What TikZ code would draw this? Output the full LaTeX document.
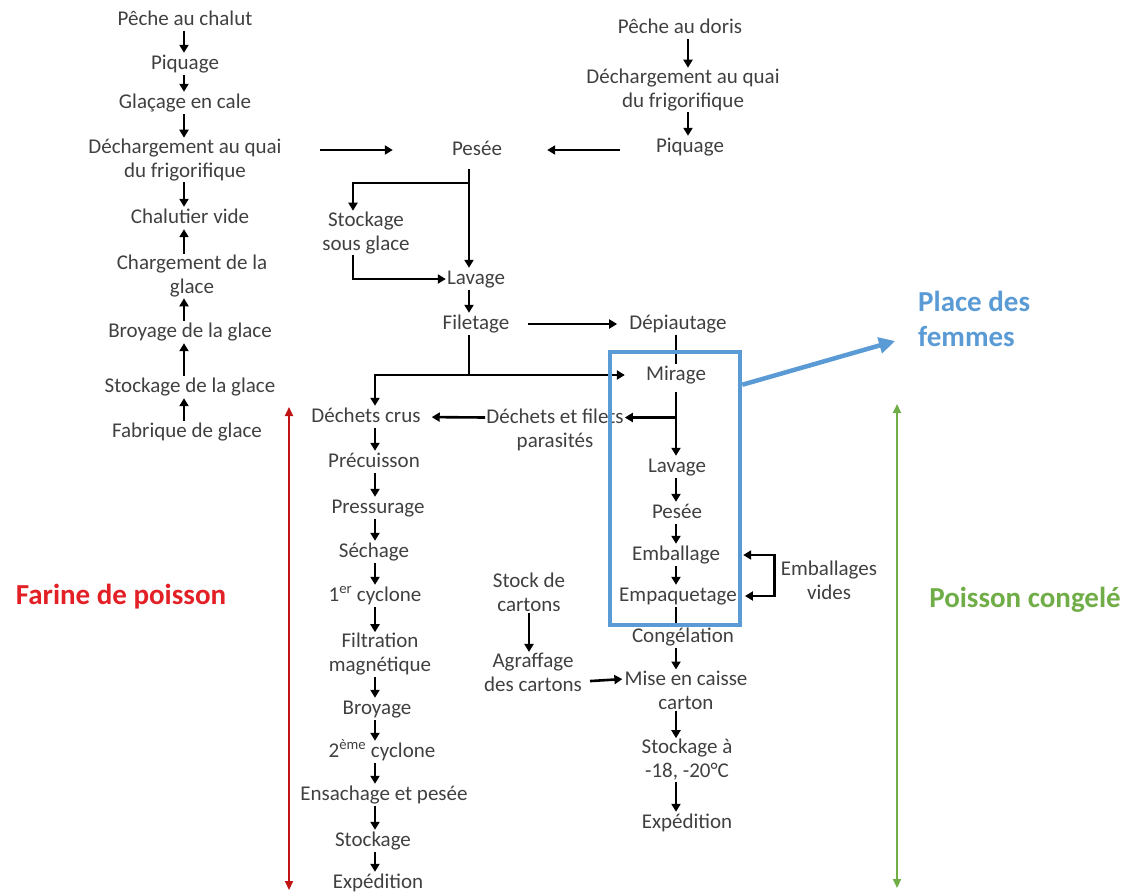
\documentclass[tikz,border=0pt]{standalone}
\usepackage{fontspec}
\setmainfont{Carlito}
\usepackage{tikz}
\usetikzlibrary{arrows.meta}

\definecolor{bleuzone}{RGB}{91,155,213}
\definecolor{rougefarine}{RGB}{226,32,38}
\definecolor{rougefleche}{RGB}{192,20,20}
\definecolor{vertcongele}{RGB}{112,173,71}

\tikzstyle{etape}=[
        text = black!75,
        align = center,
        inner sep = 1pt,
        font = \fontsize{21}{24}\selectfont
    ]
\tikzstyle{etape1}=[
        etape,
        text height = 15pt,
        text depth = 5pt
    ]
\tikzstyle{flow}=[
        draw = black,
        line width = 2.6pt,
        -{Triangle[length=8pt,width=9pt]}
    ]
\tikzstyle{trait}=[
        draw = black,
        line width = 2.6pt
    ]
\tikzstyle{titre}=[
        font = \bfseries\fontsize{29}{35}\selectfont,
        align = left,
        inner sep = 0pt
    ]
\tikzstyle{zone}=[
        draw = bleuzone,
        line width = 4.5pt,
        rectangle,
        inner sep = 0pt
    ]
\tikzstyle{double fleche}=[
        line width = 2pt,
        {Triangle[length=9pt,width=8pt]}-{Triangle[length=9pt,width=8pt]}
    ]

\begin{document}
\begin{tikzpicture}[x=1pt, y=-1pt]
        \useasboundingbox (0,0) rectangle (1140,895);

        % colonnes des fleches
        \coordinate (colA) at (184,0);
        \coordinate (colB) at (688,0);
        \coordinate (colC) at (469,0);
        \coordinate (colD) at (676,0);
        \coordinate (colE) at (375,0);

        % chalutier
        \node[etape1] (pc) at (185,20) {Pêche au chalut};
        \node[etape1] (pq1) at (185,64) {Piquage};
        \node[etape1] (gl) at (185,103) {Glaçage en cale};
        \node[etape] (dq1) at (185,160) {Déchargement au quai\\du frigorifique};
        \node[etape1] (cv) at (190,218) {Chalutier vide};
        \node[etape] (chg) at (192,276) {Chargement de la\\glace};
        \node[etape1] (bg) at (190,332) {Broyage de la glace};
        \node[etape1] (sg) at (190,387) {Stockage de la glace};
        \node[etape1] (fg) at (187,432) {Fabrique de glace};

        \draw[flow] (pc.south -| colA) -- (pq1.north -| colA);
        \draw[flow] (pq1.south -| colA) -- (gl.north -| colA);
        \draw[flow] (gl.south -| colA) -- (dq1.north -| colA);
        \draw[flow] (dq1.south -| colA) -- (cv.north -| colA);
        \draw[flow] (chg.north -| colA) -- (cv.south -| colA);
        \draw[flow] (bg.north -| colA) -- (chg.south -| colA);
        \draw[flow] (sg.north -| colA) -- (bg.south -| colA);
        \draw[flow] (fg.north -| colA) -- (sg.south -| colA);

        % doris
        \node[etape1] (pd) at (680,28) {Pêche au doris};
        \node[etape] (dq2) at (683,90) {Déchargement au quai\\du frigorifique};
        \node[etape1] (pq2) at (690,147) {Piquage};

        \draw[flow] (pd.south -| colB) -- (dq2.north -| colB);
        \draw[flow] (dq2.south -| colB) -- (pq2.north -| colB);

        % usine
        \node[etape1] (ps1) at (477,150) {Pesée};
        \node[etape] (sk) at (366,233) {Stockage\\sous glace};
        \node[etape1] (lv1) at (476,279) {Lavage};
        \node[etape1] (fl) at (476,324) {Filetage};
        \node[etape1] (dp) at (678,324) {Dépiautage};
        \coordinate (b1) at (469,183);
        \coordinate (b2) at (469,375);

        \draw[flow, shorten <=37pt, shorten >=58pt] (dq1.east |- ps1.west) -- (ps1.west);
        \draw[flow, shorten <=35pt, shorten >=44pt] (pq2.west |- ps1.east) -- (ps1.east);
        \draw[flow, shorten <=8pt] (ps1.south -| colC) -- (lv1.north -| colC);
        \draw[flow] (b1) -| ([xshift=-13pt]sk.north);
        \draw[flow] ([xshift=-13pt]sk.south) |- (lv1.west);
        \draw[flow] (lv1.south -| colC) -- (fl.north -| colC);
        \draw[flow, shorten <=17pt, shorten >=11pt] (fl.east) -- (dp.west);

        % poisson congele
        \node[etape1] (mi) at (676,375) {Mirage};
        \node[etape] (df) at (555,429.5) {Déchets et filets\\parasités};
        \node[etape1] (lv2) at (677,467) {Lavage};
        \node[etape1] (ps2) at (677,513) {Pesée};
        \node[etape1] (em) at (676,555) {Emballage};
        \node[etape1] (ep) at (678,596) {Empaquetage};
        \node[etape] (ev) at (829,580.5) {Emballages\\vides};
        \node[etape1] (cg2) at (683,637) {Congélation};
        \node[etape] (mc) at (686,690) {Mise en caisse\\carton};
        \node[etape] (sa) at (687,760) {Stockage à\\-18, -20°C};
        \node[etape1] (ex2) at (687,823) {Expédition};
        \node[etape] (sc) at (529,592) {Stock de\\cartons};
        \node[etape] (ag) at (533,672.5) {Agraffage\\des cartons};
        \coordinate (b3) at (676,417.5);

        \draw[flow, shorten >=20pt] (fl.south -| colC) |- (mi.west);
        \draw[trait] (dp.south -| colD) -- (mi.north -| colD);
        \draw[flow, shorten <=6pt] (mi.south -| colD) -- (lv2.north -| colD);
        \draw[flow] (b3) -- ([yshift=12pt]df.east);
        \draw[flow] (lv2.south -| colD) -- (ps2.north -| colD);
        \draw[flow] (ps2.south -| colD) -- (em.north -| colD);
        \draw[flow] (em.south -| colD) -- (ep.north -| colD);
        \draw[flow] ([xshift=-5pt]ev.west) |- ([xshift=22pt]em.east);
        \draw[flow] ([xshift=-5pt]ev.west) |- ([xshift=7pt]ep.east);
        \draw[trait] (ep.south -| colD) -- (cg2.north -| colD);
        \draw[flow] (cg2.south -| colD) -- (mc.north -| colD);
        \draw[flow] (mc.south -| colD) -- (sa.north -| colD);
        \draw[flow] (sa.south -| colD) -- (ex2.north -| colD);
        \draw[flow] (sc.south) -- (sc.south |- ag.north);
        \draw[flow, shorten <=7pt, shorten >=1pt] ([yshift=-9pt]ag.east) -- ([yshift=11pt]mc.west);

        % farine de poisson
        \node[etape1] (dc) at (366,417) {Déchets crus};
        \node[etape1] (pr) at (374,462) {Précuisson};
        \node[etape1] (pz) at (378,508) {Pressurage};
        \node[etape1] (se) at (374,552) {Séchage};
        \node[etape1] (c1) at (375,596) {1\textsuperscript{er} cyclone};
        \node[etape] (fm) at (380,654.5) {Filtration\\magnétique};
        \node[etape1] (br) at (377,709) {Broyage};
        \node[etape1] (c2) at (382,752) {2\textsuperscript{ème} cyclone};
        \node[etape1] (es) at (384,795) {Ensachage et pesée};
        \node[etape1] (st) at (373,841) {Stockage};
        \node[etape1] (ex1) at (378,883) {Expédition};

        \draw[flow] (b2) -| (dc.north -| colE);
        \draw[flow, shorten >=10pt] ([yshift=12pt]df.west) -- (dc.east);
        \draw[flow] (dc.south -| colE) -- (pr.north -| colE);
        \draw[flow] (pr.south -| colE) -- (pz.north -| colE);
        \draw[flow] (pz.south -| colE) -- (se.north -| colE);
        \draw[flow] (se.south -| colE) -- (c1.north -| colE);
        \draw[flow] (c1.south -| colE) -- (fm.north -| colE);
        \draw[flow] (fm.south -| colE) -- (br.north -| colE);
        \draw[flow] (br.south -| colE) -- (c2.north -| colE);
        \draw[flow] (c2.south -| colE) -- (es.north -| colE);
        \draw[flow] (es.south -| colE) -- (st.north -| colE);
        \draw[flow] (st.south -| colE) -- (ex1.north -| colE);

        % place des femmes
        \node[zone, minimum width=130pt, minimum height=273pt] (box) at (675,488.5) {};
        \node[titre, text=bleuzone, anchor=west] (pf) at (918,319) {Place des\\femmes};
        \draw[draw=bleuzone, line width=4.5pt, -{Triangle[length=16pt,width=16pt]}]
            ([yshift=-35pt]box.north east) -- ([xshift=-23pt,yshift=-22pt]pf.west);

        % legendes
        \node[titre, text=rougefarine] (fp) at (121,597) {Farine de poisson};
        \node[titre, text=vertcongele] (pcg) at (1025,600) {Poisson congelé};
        \coordinate (r1) at (289,407);
        \coordinate (r2) at (289,890);
        \coordinate (g1) at (897,404);
        \coordinate (g2) at (897,888);
        \draw[double fleche, draw=rougefleche, fill=rougefleche] (r1) -- (r2);
        \draw[double fleche, draw=vertcongele, fill=vertcongele] (g1) -- (g2);

    \end{tikzpicture}
\end{document}
